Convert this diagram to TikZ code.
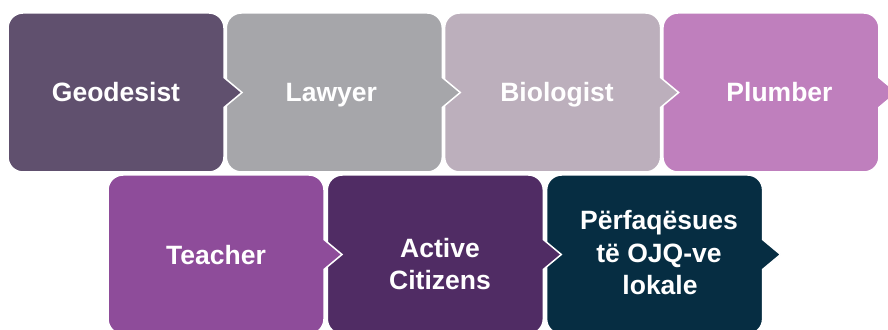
\documentclass[tikz,border=0pt]{standalone}
\usepackage{fontspec}
\setmainfont{Liberation Sans}
\definecolor{cGeo}{RGB}{96,80,110}
\definecolor{cLaw}{RGB}{166,166,170}
\definecolor{cBio}{RGB}{188,175,188}
\definecolor{cPlu}{RGB}{191,127,189}
\definecolor{cTea}{RGB}{142,76,154}
\definecolor{cAct}{RGB}{80,44,100}
\definecolor{cPer}{RGB}{6,45,66}
\newcommand{\stepshape}[5]{% x0, x1, yT, yB, colour
  \pgfmathsetmacro{\yc}{(#3+#4)/2}
  \draw[fill=#5,draw=white,line width=1.5pt,line join=miter]
    (#1,#3-15) arc[start angle=180,end angle=90,radius=15]
    -- (#2-15,#3) arc[start angle=90,end angle=0,radius=15]
    -- (#2,\yc+15) -- (#2+18,\yc) -- (#2,\yc-15)
    -- (#2,#4+15) arc[start angle=0,end angle=-90,radius=15]
    -- (#1+15,#4) arc[start angle=270,end angle=180,radius=15]
    -- cycle;}
\tikzset{lbl/.style={text=white,font=\bfseries\fontsize{26.5}{32}\selectfont,anchor=base,inner sep=0pt}}
\begin{document}
\begin{tikzpicture}[x=1pt,y=1pt]
\useasboundingbox (0,0) rectangle (888,329);
\clip (0,0) rectangle (888,329);
\fill[white] (0,0) rectangle (888,329);
% top row (drawn right to left)
\stepshape{662.9}{878.9}{316}{157}{cPlu}
\stepshape{444.6}{660.6}{316}{157}{cBio}
\stepshape{226.3}{442.3}{316}{157}{cLaw}
\stepshape{8}{224}{316}{157}{cGeo}
% bottom row
\stepshape{546.6}{762.6}{154}{-5}{cPer}
\stepshape{327.3}{543.3}{154}{-5}{cAct}
\stepshape{108}{324}{154}{-5}{cTea}
% labels
\node[lbl] (geo) at (116,227.3) {Geodesist};
\node[lbl] (law) at (331.3,227.3) {Lawyer};
\node[lbl] (bio) at (557,227.3) {Biologist};
\node[lbl] (plu) at (779.5,227.3) {Plumber};
\node[lbl] (tea) at (216,64) {Teacher};
\node[lbl] (act1) at (440,71.7) {Active};
\node[lbl] (act2) at (440,39) {Citizens};
\node[lbl] (per1) at (659,99) {Përfaqësues};
\node[lbl] (per2) at (659,66) {të OJQ-ve};
\node[lbl] (per3) at (660,34.5) {lokale};
\end{tikzpicture}
\end{document}
